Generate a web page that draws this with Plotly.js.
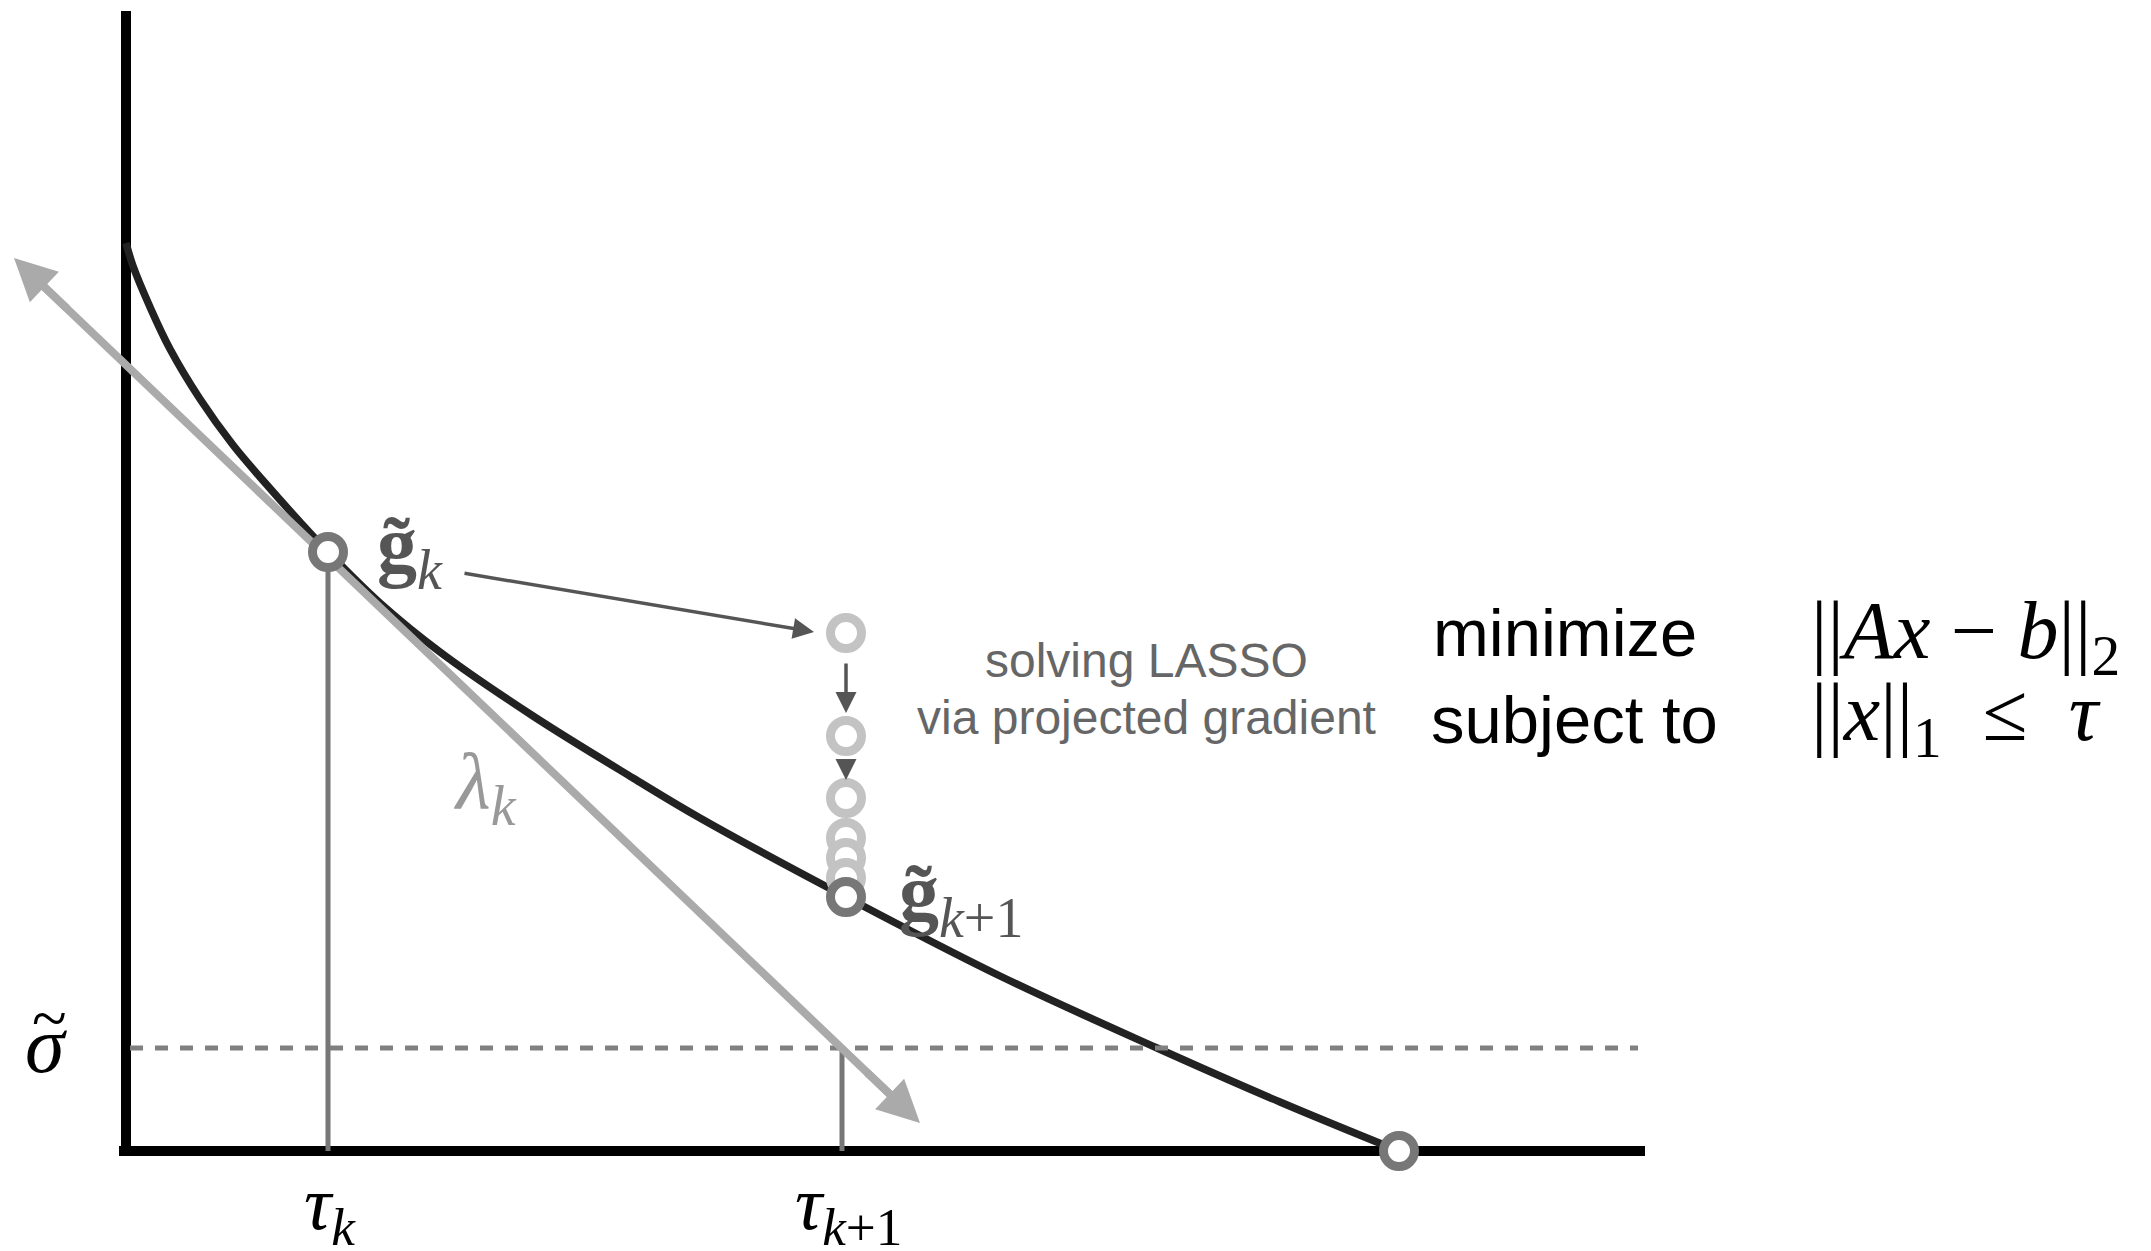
<!DOCTYPE html>
<html>
<head>
<meta charset="utf-8">
<script src="https://cdn.plot.ly/plotly-3.0.1.min.js"></script>
<style>html,body{margin:0;padding:0;background:#fff;}#chart{width:2151px;height:1251px;}</style>
</head>
<body>
<div id="chart"></div>
<script>
// ---- data (tau = l1-norm budget, phi = residual norm) ----
const curveTau = [0.00, 0.07, 0.24, 0.44, 0.74, 1.07, 1.41, 1.74, 2.02, 2.54, 3.14, 4.07, 5.07, 5.74, 7.20, 8.74, 10.31, 11.54, 12.73];
const curvePhi = [9.08, 8.85, 8.44, 8.02, 7.52, 7.06, 6.66, 6.29, 5.99, 5.48, 4.99, 4.35, 3.73, 3.33, 2.54, 1.75, 1.03, 0.49, 0.00];
const tauK = 2.02, phiK = 5.99;          // g_k
const tauK1 = 7.16;                      // tau_{k+1}
const gK1Tau = 7.20, gK1Phi = 2.54;      // g_{k+1}
const rootTau = 12.73, rootPhi = 0.00;   // end point on the axis
const sigmaTilde = 1.03;
const iterTau = 7.20;
const iterPhi = [5.18, 4.15, 3.53, 3.13, 2.93, 2.73];
const tangentTau = [-1.12, 7.94];
const tangentPhi = [8.93, 0.28];
const axisTauMax = 15.19, axisPhiMax = 11.40;

// ---- helpers ----
function lerp(a, b, t) { return a + (b - a) * t; }
const tS = lerp(tangentTau[0], tangentTau[1], 0.02), pS = lerp(tangentPhi[0], tangentPhi[1], 0.02);
const tE = lerp(tangentTau[1], tangentTau[0], 0.02), pE = lerp(tangentPhi[1], tangentPhi[0], 0.02);

const ring = (color) => ({symbol: 'circle', size: 31, color: '#ffffff', line: {color: color, width: 9}});

const traces = [
  // axes
  {x: [0, 0], y: [-0.05, axisPhiMax], mode: 'lines', line: {color: '#000', width: 10}},
  {x: [-0.07, axisTauMax], y: [0, 0], mode: 'lines', line: {color: '#000', width: 10}},
  // vertical guides
  {x: [tauK, tauK], y: [0, phiK], mode: 'lines', line: {color: '#777', width: 5}},
  {x: [tauK1, tauK1], y: [0, sigmaTilde], mode: 'lines', line: {color: '#777', width: 5}},
  // Pareto curve
  {x: curveTau, y: curvePhi, mode: 'lines', line: {color: '#222', width: 7.5, shape: 'spline', smoothing: 1.0}},
  // sigma level
  {x: [0.04, 15.12], y: [sigmaTilde, sigmaTilde], mode: 'lines', line: {color: '#808080', width: 5, dash: '13px,12px'}},
  // tangent
  {x: [tS, tE], y: [pS, pE], mode: 'lines', line: {color: '#aaaaaa', width: 8}},
  // points
  {x: [tauK], y: [phiK], mode: 'markers', marker: ring('#777')},
  {x: iterPhi.map(() => iterTau), y: iterPhi, mode: 'markers', marker: ring('#c3c3c3')},
  {x: [gK1Tau], y: [gK1Phi], mode: 'markers', marker: ring('#777')},
  {x: [rootTau], y: [rootPhi], mode: 'markers', marker: ring('#777')}
];

function arrow(x0, y0, x1, y1, color, width, size) {
  return {x: x1, y: y1, ax: x0, ay: y0, xref: 'x', yref: 'y', axref: 'x', ayref: 'y',
    text: '', showarrow: true, arrowhead: 2, arrowsize: size, arrowwidth: width,
    arrowcolor: color, standoff: 0, startstandoff: 0};
}
function label(x, y, text, size, color, family, xanchor, yanchor) {
  return {x: x, y: y, xref: 'x', yref: 'y', text: text, showarrow: false,
    xanchor: xanchor || 'left', yanchor: yanchor || 'middle', borderpad: 0,
    font: {family: family, size: size, color: color}};
}
const SERIF = 'Liberation Serif, DejaVu Serif, serif';
const SANS = 'Liberation Sans, Arial, sans-serif';

const annotations = [
  // tangent arrowheads
  arrow(lerp(tangentTau[1], tangentTau[0], 0.06), lerp(tangentPhi[1], tangentPhi[0], 0.06), tangentTau[1], tangentPhi[1], '#aaaaaa', 8, 1.05),
  arrow(lerp(tangentTau[0], tangentTau[1], 0.06), lerp(tangentPhi[0], tangentPhi[1], 0.06), tangentTau[0], tangentPhi[0], '#aaaaaa', 8, 1.05),
  // g_k -> first iterate
  arrow(3.37, 5.78, 6.88, 5.19, '#555', 3.5, 1.2),
  arrow(iterTau, 4.89, iterTau, 4.38, '#555', 3.5, 1.2),
  arrow(iterTau, 3.93, iterTau, 3.71, '#555', 3.5, 1.2),
  // labels
  label(2.50, 6.00, '<b>g\u0303</b><sub><i>k</i></sub>', 80, '#555', SERIF),
  label(7.72, 2.52, '<b>g\u0303</b><sub><i>k</i>+1</sub>', 80, '#555', SERIF),
  label(3.27, 3.64, '<i>\u03bb</i><sub><i>k</i></sub>', 80, '#999', SERIF),
  label(-0.80, 1.06, '<i>\u03c3</i>', 80, '#000', SERIF, 'center'),
  label(-0.77, 1.33, '~', 64, '#000', SERIF, 'center'),
  label(2.04, -0.58, '<i>\u03c4</i><sub><i>k</i></sub>', 76, '#000', SERIF, 'center'),
  label(7.22, -0.58, '<i>\u03c4</i><sub><i>k</i>+1</sub>', 76, '#000', SERIF, 'center'),
  label(10.20, 4.91, 'solving LASSO', 48, '#666', SANS, 'center'),
  label(10.20, 4.34, 'via projected gradient', 48, '#666', SANS, 'center'),
  label(13.06, 5.19, 'minimize', 67, '#000', SANS),
  label(13.04, 4.32, 'subject to', 67, '#000', SANS),
  label(16.84, 5.15, '||<i>Ax</i> \u2212 <i>b</i>||<sub>2</sub>', 82, '#000', SERIF),
  label(16.84, 4.33, '||<i>x</i>||<sub>1</sub>\u2005 \u2264\u2005 <i>\u03c4</i>', 82, '#000', SERIF)
];

const layout = {
  width: 2151, height: 1251,
  margin: {l: 0, r: 0, t: 0, b: 0, pad: 0},
  paper_bgcolor: '#fff', plot_bgcolor: '#fff',
  showlegend: false, hovermode: false,
  xaxis: {range: [-1.26, 20.25], visible: false, showgrid: false, zeroline: false, fixedrange: true},
  yaxis: {range: [-1.00, 11.51], visible: false, showgrid: false, zeroline: false, fixedrange: true},
  annotations: annotations
};

Plotly.newPlot('chart', traces, layout, {staticPlot: true, displayModeBar: false});
</script>
</body>
</html>
